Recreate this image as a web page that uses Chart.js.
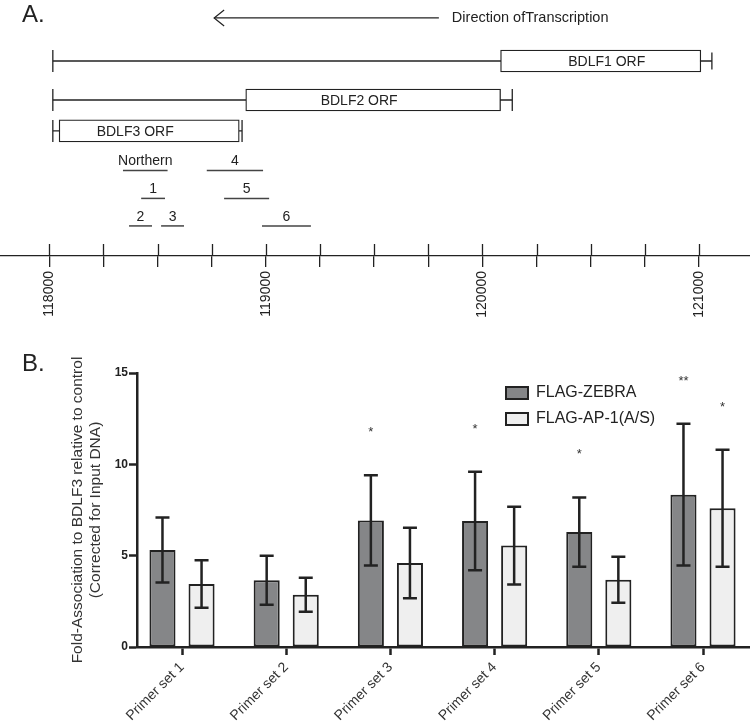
<!DOCTYPE html>
<html>
<head>
<meta charset="utf-8">
<title>BDLF3 locus and ChIP</title>
<script src="https://cdn.jsdelivr.net/npm/chart.js@4.4.1/dist/chart.umd.min.js"></script>
<style>
  html, body { margin: 0; padding: 0; background: #fff; }
  #wrap { position: relative; width: 750px; height: 728px; overflow: hidden; }
  #map { position: absolute; left: 0; top: 0; }
  #chip { position: absolute; left: 0; top: 330px; }
</style>
</head>
<body>
<div id="wrap">
  <canvas id="map" width="750" height="330"></canvas>
  <canvas id="chip" width="750" height="398"></canvas>
</div>
<script>
// ---------- Panel A data: BDLF1-3 region, genome coordinates (bp) ----------
const orfNames = ['BDLF1 ORF', 'BDLF2 ORF', 'BDLF3 ORF'];
const orfStart = [120084, 118907, 118045];
const orfEnd = [121009, 120084, 118877];
const transcriptStart = [118016, 118016, 118016];
const transcriptEnd = [121060, 120138, 118890];

const primerNames = ['Northern', '4', '1', '5', '2', '3', '6'];
const primerStart = [118340, 118727, 118424, 118807, 118368, 118516, 118982];
const primerEnd = [118546, 118987, 118534, 119015, 118474, 118622, 119208];
const primerRow = [0, 0, 1, 1, 2, 2, 2];

const arrowLabel = 'Direction ofTranscription';
const arrowFromTo = [119799, 118761];

const genomeTicks = [118000, 118250, 118500, 118750, 119000, 119250, 119500,
                     119750, 120000, 120250, 120500, 120750, 121000];
const genomeLabels = [118000, 119000, 120000, 121000];

// ---------- Panel B data: fold association ----------
const primerSets = ['Primer set 1', 'Primer set 2', 'Primer set 3',
                    'Primer set 4', 'Primer set 5', 'Primer set 6'];
const zebraValues = [5.31, 3.65, 6.93, 6.90, 6.29, 8.34];
const zebraErrors = [1.78, 1.34, 2.47, 2.70, 1.90, 3.88];
const apValues = [3.45, 2.86, 4.60, 5.55, 3.68, 7.60];
const apErrors = [1.30, 0.93, 1.93, 2.13, 1.26, 3.20];
const zebraSig = ['', '', '*', '*', '*', '**'];
const apSig = ['', '', '', '', '', '*'];
const yTicks = [0, 5, 10, 15];
const yTitle = ['Fold-Association to BDLF3 relative to control', '(Corrected for Input DNA)'];

// ---------- layout ----------
const FONT = '"Liberation Sans", Arial, Helvetica, sans-serif';
Chart.defaults.font.family = FONT;
Chart.defaults.color = '#222';

const arrowLane = 0.56;
const orfLane = [1.906, 3.125, 4.09];
const primerLane = [5.33, 6.2, 7.06];
const orfLabelShift = [6, -14, -14];

// ---------- Panel A ----------
const mapDatasets = [{
    type: 'bar',
    label: 'ORF',
    indexAxis: 'y',
    data: orfNames.map((n, i) => ({ x: [orfStart[i], orfEnd[i]], y: orfLane[i] })),
    backgroundColor: '#ffffff',
    borderColor: '#222',
    borderWidth: 1.3,
    borderSkipped: false,
    barThickness: 22,
    order: 0
}];

orfNames.forEach((n, i) => {
    mapDatasets.push({
        type: 'line',
        label: n + ' transcript',
        data: [{ x: transcriptStart[i], y: orfLane[i] }, { x: transcriptEnd[i], y: orfLane[i] }],
        borderColor: '#222',
        borderWidth: 1.3,
        pointStyle: 'line',
        pointRotation: 90,
        pointRadius: [11, i === 0 ? 8.5 : 11],
        pointBorderWidth: 1.3,
        pointBorderColor: '#222',
        order: 1
    });
});

primerNames.forEach((n, i) => {
    const lane = primerLane[primerRow[i]];
    mapDatasets.push({
        type: 'line',
        label: n,
        kind: 'primer',
        data: [{ x: primerStart[i], y: lane }, { x: primerEnd[i], y: lane }],
        borderColor: '#444',
        borderWidth: 1.5,
        pointRadius: 0,
        order: 1
    });
});

mapDatasets.push({
    type: 'line',
    label: arrowLabel,
    kind: 'arrow',
    data: [{ x: arrowFromTo[0], y: arrowLane }, { x: arrowFromTo[1], y: arrowLane }],
    borderColor: '#222',
    borderWidth: 1.2,
    pointRadius: 0,
    order: 1
});

const mapDecor = {
    id: 'mapDecor',
    afterDatasetsDraw(chart) {
        const ctx = chart.ctx;
        const area = chart.chartArea;
        ctx.save();
        ctx.fillStyle = '#222';
        ctx.strokeStyle = '#222';
        ctx.font = '14px ' + FONT;

        chart.data.datasets.forEach((ds, i) => {
            const meta = chart.getDatasetMeta(i);
            if (ds.type === 'bar') {
                ctx.textAlign = 'center';
                ctx.textBaseline = 'middle';
                meta.data.forEach((el, j) => {
                    ctx.fillText(orfNames[j], (el.x + el.base) / 2 + orfLabelShift[j], el.y + 1);
                });
            } else if (ds.kind === 'primer') {
                const a = meta.data[0], b = meta.data[1];
                ctx.textAlign = 'center';
                ctx.textBaseline = 'middle';
                ctx.fillText(ds.label, (a.x + b.x) / 2, a.y - 9);
            } else if (ds.kind === 'arrow') {
                const tail = meta.data[0], head = meta.data[1];
                ctx.lineWidth = 1.2;
                ctx.beginPath();
                ctx.moveTo(head.x + 10, head.y - 8);
                ctx.lineTo(head.x, head.y);
                ctx.lineTo(head.x + 10, head.y + 8);
                ctx.stroke();
                ctx.font = '14.5px ' + FONT;
                ctx.textAlign = 'left';
                ctx.textBaseline = 'middle';
                ctx.fillText(ds.label, tail.x + 13, tail.y);
                ctx.font = '14px ' + FONT;
            }
        });

        // upper half of the genome ruler ticks
        const xs = chart.scales.x;
        ctx.lineWidth = 1.3;
        ctx.beginPath();
        xs.ticks.forEach(t => {
            const px = Math.round(xs.getPixelForValue(t.value)) + 0.5;
            ctx.moveTo(px, area.bottom - 12);
            ctx.lineTo(px, area.bottom);
        });
        ctx.stroke();

        ctx.font = '24px ' + FONT;
        ctx.textAlign = 'left';
        ctx.textBaseline = 'alphabetic';
        ctx.fillText('A.', 22, 22);
        ctx.restore();
    }
};

new Chart(document.getElementById('map'), {
    type: 'line',
    data: { datasets: mapDatasets },
    options: {
        responsive: false,
        animation: false,
        layout: { padding: 0, autoPadding: false },
        plugins: { legend: { display: false }, tooltip: { enabled: false } },
        scales: {
            x: {
                type: 'linear',
                min: 117772,
                max: 121236,
                offset: false,
                afterBuildTicks: s => { s.ticks = genomeTicks.map(v => ({ value: v })); },
                afterFit: s => { s.height = 74; s.paddingLeft = 0; s.paddingRight = 0; },
                grid: { display: true, offset: false, drawOnChartArea: false, drawTicks: true, tickLength: 11,
                        color: '#222', lineWidth: 1.3 },
                border: { display: true, color: '#222', width: 1.3 },
                ticks: {
                    autoSkip: false, minRotation: 90, maxRotation: 90, padding: 4,
                    color: '#222', font: { size: 14 },
                    callback: v => genomeLabels.includes(v) ? String(v) : ''
                }
            },
            y: { type: 'linear', display: false, offset: false, min: 0, max: 8, reverse: true }
        }
    },
    plugins: [mapDecor]
});

// ---------- Panel B ----------
const legendSpot = {
    id: 'legendSpot',
    afterLayout(chart) {
        const lg = chart.legend;
        if (!lg) return;
        lg.left = 496;
        lg.top = chart.chartArea.top + 2;
        lg.right = chart.width;
        lg.bottom = chart.chartArea.bottom;
    }
};

const errorBars = {
    id: 'errorBars',
    afterDatasetsDraw(chart) {
        const ctx = chart.ctx;
        const yScale = chart.scales.y;
        const vals = [zebraValues, apValues];
        const errs = [zebraErrors, apErrors];
        const sig = [zebraSig, apSig];
        ctx.save();
        chart.data.datasets.forEach((ds, i) => {
            const meta = chart.getDatasetMeta(i);
            meta.data.forEach((bar, j) => {
                const top = yScale.getPixelForValue(vals[i][j] + errs[i][j]);
                const bot = yScale.getPixelForValue(vals[i][j] - errs[i][j]);
                ctx.strokeStyle = '#222';
                ctx.lineWidth = 2.5;
                ctx.beginPath();
                ctx.moveTo(bar.x, top);
                ctx.lineTo(bar.x, bot);
                ctx.moveTo(bar.x - 7, top);
                ctx.lineTo(bar.x + 7, top);
                ctx.moveTo(bar.x - 7, bot);
                ctx.lineTo(bar.x + 7, bot);
                ctx.stroke();
                if (sig[i][j]) {
                    ctx.fillStyle = '#333';
                    ctx.font = '13px ' + FONT;
                    ctx.textAlign = 'center';
                    ctx.textBaseline = 'alphabetic';
                    ctx.fillText(sig[i][j], bar.x, top - 46 + 7);
                }
            });
        });
        ctx.fillStyle = '#222';
        ctx.font = '24px ' + FONT;
        ctx.textAlign = 'left';
        ctx.textBaseline = 'alphabetic';
        ctx.fillText('B.', 22, 41);
        ctx.restore();
    }
};

new Chart(document.getElementById('chip'), {
    type: 'bar',
    data: {
        datasets: [
            {
                label: 'FLAG-ZEBRA',
                data: zebraValues.map((v, i) => ({ x: i, y: v })),
                backgroundColor: '#858688',
                borderColor: '#222',
                borderWidth: 2,
                borderSkipped: false,
                categoryPercentage: 0.75,
                barPercentage: 0.667
            },
            {
                label: 'FLAG-AP-1(A/S)',
                data: apValues.map((v, i) => ({ x: i, y: v })),
                backgroundColor: '#efefef',
                borderColor: '#222',
                borderWidth: 2,
                borderSkipped: false,
                categoryPercentage: 0.75,
                barPercentage: 0.667
            }
        ]
    },
    options: {
        responsive: false,
        animation: false,
        layout: { padding: { top: 43, left: 0, right: 0, bottom: 0 }, autoPadding: false },
        plugins: {
            tooltip: { enabled: false },
            legend: {
                position: 'chartArea',
                align: 'start',
                labels: { boxWidth: 22, boxHeight: 12, padding: 10, color: '#222', font: { size: 16 } }
            }
        },
        scales: {
            x: {
                type: 'linear',
                min: -0.432,
                max: 5.451,
                offset: false,
                afterBuildTicks: s => { s.ticks = primerSets.map((c, i) => ({ value: i })); },
                afterFit: s => { s.height = 81; },
                grid: { offset: false, drawOnChartArea: false, drawTicks: true, tickLength: 8,
                        tickWidth: 2.5, tickColor: '#222' },
                border: { color: '#222', width: 2.5 },
                ticks: {
                    autoSkip: false, minRotation: 45, maxRotation: 45, padding: 4,
                    color: '#333', font: { size: 14 },
                    callback: v => primerSets[v]
                }
            },
            y: {
                min: 0,
                max: 15,
                afterBuildTicks: s => { s.ticks = yTicks.map(v => ({ value: v })); },
                afterFit: s => { s.width = 137; },
                grid: { drawOnChartArea: false, drawTicks: true, tickLength: 8,
                        tickWidth: 2.5, tickColor: '#222' },
                border: { color: '#222', width: 2.5 },
                ticks: { color: '#222', font: { size: 12, weight: 'bold' }, padding: 1 },
                title: {
                    display: true,
                    text: yTitle,
                    color: '#333',
                    font: { size: 15.5 },
                    padding: { top: 68, bottom: 0 }
                }
            }
        }
    },
    plugins: [legendSpot, errorBars]
});
</script>
</body>
</html>
